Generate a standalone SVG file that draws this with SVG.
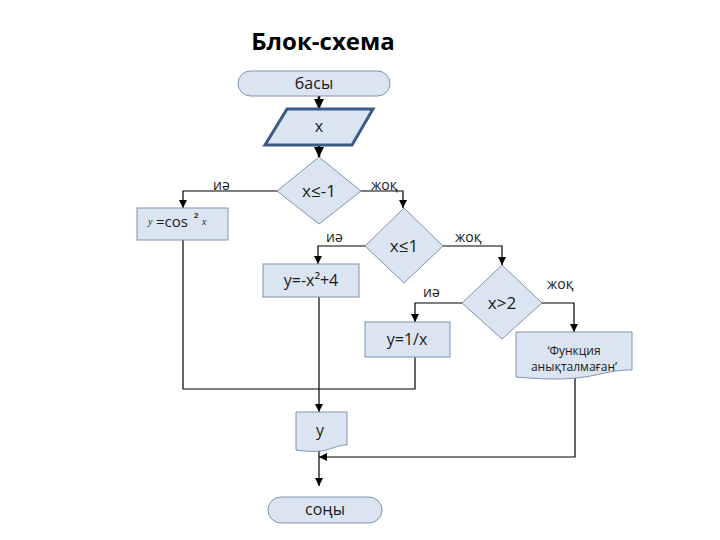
<svg xmlns="http://www.w3.org/2000/svg" width="720" height="540" viewBox="0 0 720 540">
<defs>
<style>
.sh{fill:#dbe5f1;stroke:#7f93b0;stroke-width:1}
.t{font-family:"Open Sans","Liberation Sans",sans-serif;font-size:16px;fill:#1a1a1a;text-anchor:middle}
.d{font-size:17px}
.lb{font-family:"Open Sans","Liberation Sans",sans-serif;font-size:14px;fill:#1a1a1a}
.ln{fill:none;stroke:#000;stroke-width:1.2}
.thick{fill:none;stroke:#000;stroke-width:2.5}
</style>
<marker id="ah" viewBox="0 0 10 10" refX="10" refY="5" markerWidth="8" markerHeight="8" markerUnits="userSpaceOnUse" orient="auto"><path d="M0,0 L10,5 L0,10 Z" fill="#000"/></marker>
<marker id="ah2" viewBox="0 0 10 10" refX="10" refY="5" markerWidth="4" markerHeight="4" orient="auto"><path d="M0,0 L10,5 L0,10 Z" fill="#000"/></marker>
</defs>
<rect width="720" height="540" fill="#fff"/>
<text x="323" y="50" font-family="'Open Sans','Liberation Sans',sans-serif" font-weight="bold" font-size="24" text-anchor="middle" fill="#000">Блок-схема</text>

<g id="connectors">
<path class="thick" d="M319,96 V109" marker-end="url(#ah2)"/>
<path class="thick" d="M319,145 V157" marker-end="url(#ah2)"/>
<path class="ln" d="M277,191 H183 V208" marker-end="url(#ah)"/>
<path class="ln" d="M361,191 H403 V208" marker-end="url(#ah)"/>
<path class="ln" d="M365,246 H318 V264" marker-end="url(#ah)"/>
<path class="ln" d="M443,246 H502 V265" marker-end="url(#ah)"/>
<path class="ln" d="M462,303 H415 V322" marker-end="url(#ah)"/>
<path class="ln" d="M542,303 H574 V332" marker-end="url(#ah)"/>
<path class="ln" d="M183,240 V389 H415 V357"/>
<path class="ln" d="M319,297 V412" marker-end="url(#ah)"/>
<path class="ln" d="M575,375 V457 H319" marker-end="url(#ah)"/>
<path class="ln" d="M319,449 V486" marker-end="url(#ah)"/>
</g>

<g id="start">
<rect class="sh" x="238" y="71" width="152" height="25" rx="12.5"/>
<text class="t" x="314" y="89">басы</text>
</g>
<g id="input">
<polygon points="287,109 373,109 352,145 265,145" fill="#dbe5f1" stroke="#3d5a86" stroke-width="3"/>
<text class="t" x="319" y="132">x</text>
</g>
<g id="cond1">
<polygon class="sh" points="319,157 361,191 319,224 277,191"/>
<text class="t d" x="319" y="197">x≤-1</text>
</g>
<g id="cos">
<rect class="sh" x="137" y="208" width="91" height="32"/>
<text x="148" y="225" font-family="'Liberation Serif',serif" font-style="italic" font-size="10" fill="#1a1a1a">y</text>
<text x="156" y="227" font-family="'Open Sans','Liberation Sans',sans-serif" font-size="15" fill="#1a1a1a">=cos</text>
<text x="194" y="218" font-family="'Liberation Sans',sans-serif" font-weight="bold" font-size="8" fill="#1a1a1a">2</text>
<text x="202" y="225" font-family="'Liberation Serif',serif" font-style="italic" font-size="10" fill="#1a1a1a">x</text>
</g>
<g id="cond2">
<polygon class="sh" points="404,208 443,246 404,283 365,246"/>
<text class="t d" x="404" y="252">x≤1</text>
</g>
<g id="box2">
<rect class="sh" x="263" y="264" width="96" height="33"/>
<text class="t" x="311" y="286">y=-x²+4</text>
</g>
<g id="cond3">
<polygon class="sh" points="502,265 542,303 502,339 462,303"/>
<text class="t d" x="502" y="309">x&gt;2</text>
</g>
<g id="box3">
<rect class="sh" x="365" y="322" width="85" height="35"/>
<text class="t" x="407" y="345">y=1/x</text>
</g>
<g id="doc1">
<path class="sh" d="M516,332 H632 V370 C595,370 595,384 516,377 Z"/>
<text class="t" x="574" y="355" style="font-size:12px">‘Функция</text>
<text class="t" x="574" y="371" style="font-size:12px">анықталмаған’</text>
</g>
<g id="out">
<path class="sh" d="M296,412 H347 V445 C331,445 331,455 296,450 Z"/>
<text class="t" x="320" y="436">y</text>
</g>
<g id="end">
<rect class="sh" x="268" y="497" width="114" height="26" rx="13"/>
<text class="t" x="325" y="515">соңы</text>
</g>

<g id="labels">
<text class="lb" x="213" y="190">иә</text>
<text class="lb" x="371" y="190">жоқ</text>
<text class="lb" x="326" y="242">иә</text>
<text class="lb" x="455" y="242">жоқ</text>
<text class="lb" x="423" y="297">иә</text>
<text class="lb" x="547" y="289">жоқ</text>
</g>
</svg>
